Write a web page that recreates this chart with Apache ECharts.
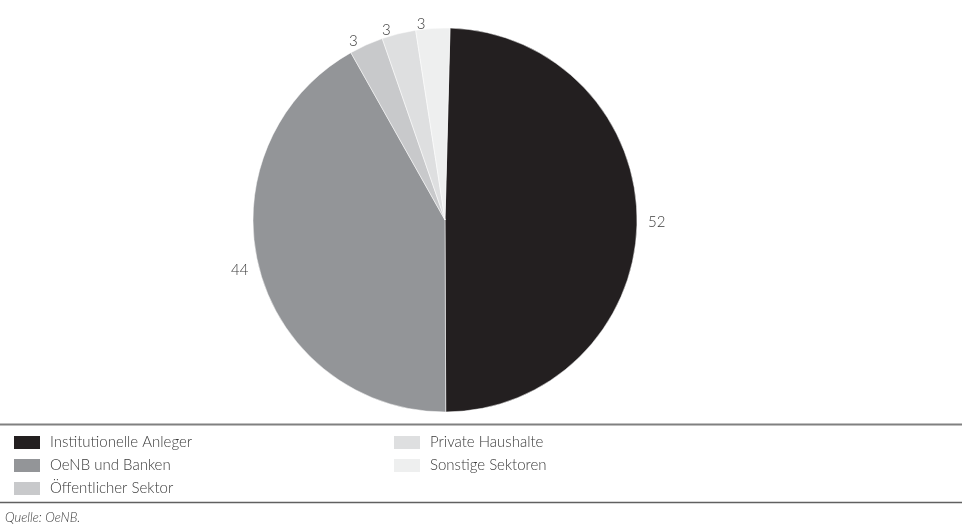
<!DOCTYPE html>
<html>
<head>
<meta charset="utf-8">
<style>
  html, body { margin: 0; padding: 0; background: #ffffff; }
  #chart { width: 962px; height: 529px; }
</style>
<script src="https://cdn.jsdelivr.net/npm/echarts@6/dist/echarts.min.js"></script>
</head>
<body>
<div id="chart"></div>
<script>
// Sector shares (per cent), in drawing order clockwise from the top
const categories = [
  'Institutionelle Anleger',
  'OeNB und Banken',
  'Öffentlicher Sektor',
  'Private Haushalte',
  'Sonstige Sektoren'
];
const shares = [52, 44, 3, 3, 3];
const sliceColors = ['#231f20', '#939598', '#c8c9cb', '#dedfe0', '#eeefef'];
const legendLeftColumn = ['Institutionelle Anleger', 'OeNB und Banken', 'Öffentlicher Sektor'];
const legendRightColumn = ['Private Haushalte', 'Sonstige Sektoren'];
const sourceNote = 'Quelle: OeNB.';

const FONT = 'Lato, "Open Sans", sans-serif';

const chart = echarts.init(document.getElementById('chart'), null, { renderer: 'canvas' });

const legendBase = {
  orient: 'vertical',
  itemWidth: 28,
  itemHeight: 15,
  itemGap: 6,
  icon: 'rect',
  selectedMode: false,
  textStyle: {
    fontFamily: FONT, fontSize: 15, fontWeight: 300, lineHeight: 16,
    color: '#3a3a3a', padding: [0, 0, 0, 4]
  }
};

chart.setOption({
  backgroundColor: '#ffffff',
  animation: false,
  color: sliceColors,
  legend: [
    Object.assign({}, legendBase, { left: 7, top: 429, data: legendLeftColumn }),
    Object.assign({}, legendBase, { left: 387, top: 429, data: legendRightColumn })
  ],
  graphic: [
    { type: 'line', shape: { x1: 0, y1: 424.5, x2: 962, y2: 424.5 },
      style: { stroke: '#808080', lineWidth: 2 } },
    { type: 'line', shape: { x1: 0, y1: 502.5, x2: 962, y2: 502.5 },
      style: { stroke: '#606060', lineWidth: 1.5 } },
    { type: 'text', left: 5, top: 511,
      style: { text: sourceNote, fontFamily: FONT, fontStyle: 'italic', fontWeight: 300, fontSize: 13, fill: '#3a3a3a' } }
  ],
  series: [{
    type: 'pie',
    center: [445, 220],
    radius: [0, 192],
    startAngle: 88.5,
    clockwise: true,
    avoidLabelOverlap: false,
    itemStyle: { borderColor: '#ffffff', borderWidth: 0.5 },
    label: {
      show: true,
      position: 'outside',
      formatter: '{c}',
      fontFamily: FONT,
      fontSize: 15,
      fontWeight: 300,
      color: '#3a3a3a'
    },
    labelLine: { show: false, length: 4, length2: 2 },
    emphasis: { disabled: true },
    data: categories.map((name, i) => ({ name: name, value: shares[i] }))
  }]
});
</script>
</body>
</html>
